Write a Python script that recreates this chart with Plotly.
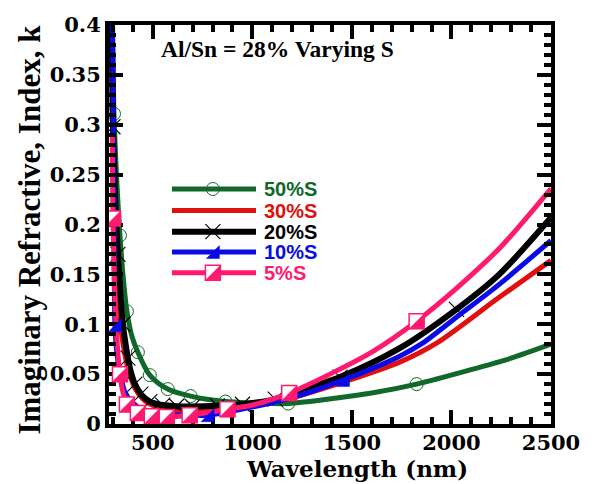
import plotly.graph_objects as go

# Extinction coefficient k versus wavelength for films with Al/Sn = 28 % and varying S content
lam_50 = [298, 305, 320, 335, 350, 370, 395, 425, 485, 575, 690, 865, 1000, 1180, 1425, 1600, 1825, 2090, 2300, 2500]
k_50 = [0.40, 0.311, 0.24, 0.189, 0.15, 0.113, 0.088, 0.072, 0.049, 0.035, 0.028, 0.0225, 0.0212, 0.0205, 0.026, 0.031, 0.040, 0.054, 0.066, 0.080]
mk_50 = [1, 3, 5, 7, 8, 9, 10, 11, 13, 16]

lam_30 = [294, 300, 312, 325, 340, 355, 375, 410, 450, 485, 550, 650, 750, 925, 1175, 1425, 1740, 1925, 2240, 2500]
k_30 = [0.40, 0.26, 0.18, 0.13, 0.095, 0.075, 0.056, 0.036, 0.025, 0.020, 0.0155, 0.0135, 0.0135, 0.016, 0.025, 0.040, 0.062, 0.081, 0.127, 0.164]

lam_20 = [294, 300, 312, 325, 338, 350, 362, 375, 390, 410, 440, 485, 550, 620, 700, 825, 950, 1115, 1175, 1440, 1740, 2025, 2240, 2500]
k_20 = [0.40, 0.298, 0.22, 0.17, 0.128, 0.100, 0.082, 0.066, 0.052, 0.040, 0.030, 0.0225, 0.0190, 0.0178, 0.0175, 0.0182, 0.0198, 0.025, 0.029, 0.047, 0.076, 0.115, 0.150, 0.207]
mk_20 = [1, 3, 5, 7, 9, 10, 11, 12, 13, 14, 15, 16, 17, 19, 21]

lam_10 = [296, 300, 305, 310, 320, 335, 360, 395, 450, 550, 700, 775, 925, 1175, 1455, 1740, 1855, 2025, 2240, 2500]
k_10 = [0.40, 0.36, 0.20, 0.099, 0.07, 0.052, 0.032, 0.022, 0.014, 0.010, 0.0088, 0.0088, 0.014, 0.025, 0.044, 0.068, 0.081, 0.107, 0.140, 0.184]
mk_10 = [3, 11, 14]

lam_5 = [297, 300, 318, 335, 350, 370, 395, 425, 495, 570, 685, 875, 1000, 1185, 1400, 1600, 1825, 2025, 2250, 2500]
k_5 = [0.29, 0.206, 0.09, 0.05, 0.032, 0.0196, 0.014, 0.011, 0.0078, 0.007, 0.0088, 0.0147, 0.019, 0.031, 0.051, 0.072, 0.103, 0.136, 0.178, 0.236]
mk_5 = [1, 3, 5, 7, 8, 9, 10, 11, 13, 16]

legend_labels = ["50%S", "30%S", "20%S", "10%S", "5%S"]
x_ticks = [500, 1000, 1500, 2000, 2500]
y_ticks = [0, 0.05, 0.1, 0.15, 0.2, 0.25, 0.3, 0.35, 0.4]

GREEN = "#10682a"
RED = "#e0100e"
BLACK = "#000000"
BLUE = "#0a0ae6"
PINK = "#ff1a70"

W, H = 595, 484
M_L, M_R, M_T, M_B = 109, 44, 15, 60
X_RANGE = [280, 2500]
Y_RANGE = [0, 0.4]

# marker glyph outlines in pixels, relative to the anchoring data point (y up)
HS = 7.5
SQUARE_PATH = f"M {-HS} {-HS} L {HS} {-HS} L {HS} {HS} L {-HS} {HS} Z"
HALF_PATH = f"M {-HS} {-HS} L {HS} {-HS} L {HS} {HS} Z"
HT = 6.5
TRI_PATH = f"M {-HT} {-HT} L {HT} {-HT} L {HT} {HT} Z"


def pick(vals, idx):
    return [vals[i] for i in idx]


def line(x, y, color, width, xa="x", ya="y", shape="spline"):
    return go.Scatter(x=x, y=y, mode="lines", showlegend=False, hoverinfo="skip", xaxis=xa, yaxis=ya,
                      line=dict(color=color, width=width, shape=shape, smoothing=0.8))


def glyph(x, y, path, fill, edge, edge_w, xref="x", yref="y"):
    return dict(type="path", path=path, xsizemode="pixel", ysizemode="pixel", xanchor=x, yanchor=y,
                xref=xref, yref=yref, fillcolor=fill, line=dict(color=edge, width=edge_w), layer="above")


def half_square(x, y, xref="x", yref="y"):
    return [glyph(x, y, SQUARE_PATH, "white", PINK, 1.5, xref, yref),
            glyph(x, y, HALF_PATH, PINK, PINK, 0.5, xref, yref)]


fig = go.Figure()
shapes = []

# 50 % S
fig.add_trace(line(lam_50, k_50, GREEN, 5))
fig.add_trace(go.Scatter(x=pick(lam_50, mk_50), y=pick(k_50, mk_50), mode="markers", showlegend=False,
                         marker=dict(symbol="circle-open", size=13, color=GREEN, line=dict(width=1, color=GREEN))))
# 30 % S
fig.add_trace(line(lam_30, k_30, RED, 5))
# 20 % S
fig.add_trace(line(lam_20, k_20, BLACK, 6))
fig.add_trace(go.Scatter(x=pick(lam_20, mk_20), y=pick(k_20, mk_20), mode="markers", showlegend=False,
                         marker=dict(symbol="x-thin-open", size=15, color=BLACK, line=dict(width=1.1, color=BLACK))))
# 10 % S
fig.add_trace(line(lam_10, k_10, BLUE, 5))
for xv, yv in zip(pick(lam_10, mk_10), pick(k_10, mk_10)):
    shapes.append(glyph(xv, yv, TRI_PATH, BLUE, BLUE, 0.5))
# 5 % S
fig.add_trace(line(lam_5, k_5, PINK, 5))
for xv, yv in zip(pick(lam_5, mk_5), pick(k_5, mk_5)):
    shapes.extend(half_square(xv, yv))

# Legend drawn on an overlay axis spanning the plot area in [0, 1] units
leg_x0, leg_x1, leg_xm, leg_tx = 0.1425, 0.3326, 0.235, 0.346
leg_rows = [0.589, 0.535, 0.482, 0.431, 0.379]
leg_colors = [GREEN, RED, BLACK, BLUE, PINK]
leg_widths = [5, 5, 6, 5, 5]
for yy, c, w in zip(leg_rows, leg_colors, leg_widths):
    fig.add_trace(line([leg_x0, leg_x1], [yy, yy], c, w, "x2", "y2", "linear"))
fig.add_trace(go.Scatter(x=[leg_xm], y=[leg_rows[0]], xaxis="x2", yaxis="y2", mode="markers", showlegend=False,
                         marker=dict(symbol="circle-open", size=13, color=GREEN, line=dict(width=1, color=GREEN))))
fig.add_trace(go.Scatter(x=[leg_xm], y=[leg_rows[2]], xaxis="x2", yaxis="y2", mode="markers", showlegend=False,
                         marker=dict(symbol="x-thin-open", size=15, color=BLACK, line=dict(width=1.1, color=BLACK))))
shapes.append(glyph(leg_xm, leg_rows[3], TRI_PATH, BLUE, BLUE, 0.5, "x2", "y2"))
shapes.extend(half_square(leg_xm, leg_rows[4], "x2", "y2"))

annotations = []
for yy, c, txt in zip(leg_rows, leg_colors, legend_labels):
    annotations.append(dict(x=leg_tx, y=yy, xref="paper", yref="paper", text=txt, showarrow=False,
                            xanchor="left", yanchor="middle",
                            font=dict(family="Liberation Sans, Arial", size=20, color=c, weight="bold")))
annotations.append(dict(x=0.113, y=0.939, xref="paper", yref="paper", text="Al/Sn = 28% Varying S",
                        showarrow=False, xanchor="left", yanchor="middle",
                        font=dict(family="Liberation Serif, Times New Roman", size=23.5, color="black", weight="bold")))
annotations.append(dict(x=0.561, y=-0.112, xref="paper", yref="paper", text="Wavelength (nm)",
                        showarrow=False, xanchor="center", yanchor="middle",
                        font=dict(family="DejaVu Serif", size=23, color="black", weight="bold")))
annotations.append(dict(x=-0.179, y=0.487, xref="paper", yref="paper", text="Imaginary Refractive, Index, k",
                        showarrow=False, xanchor="center", yanchor="middle", textangle=-90,
                        font=dict(family="Liberation Serif, Times New Roman", size=31, color="black", weight="bold")))

tick_font = dict(family="DejaVu Serif", size=21, color="black", weight="bold")

fig.update_layout(
    width=W, height=H,
    margin=dict(l=M_L, r=M_R, t=M_T, b=M_B),
    paper_bgcolor="white", plot_bgcolor="white",
    showlegend=False,
    annotations=annotations,
    shapes=shapes,
    xaxis=dict(range=X_RANGE, tickmode="array", tickvals=x_ticks, ticks="inside", ticklen=14, tickwidth=3.5,
               tickcolor="black", showline=True, linewidth=4, linecolor="black", mirror="allticks",
               showgrid=False, zeroline=False, tickfont=tick_font, ticklabelstandoff=-3,
               minor=dict(dtick=100, tick0=0, ticks="inside", ticklen=7, tickwidth=3.5, tickcolor="black",
                          showgrid=False)),
    yaxis=dict(range=Y_RANGE, tickmode="array", tickvals=y_ticks, ticktext=[f"{v:g}" for v in y_ticks],
               ticks="inside", ticklen=14, tickwidth=3.5,
               tickcolor="black", showline=True, linewidth=4, linecolor="black", mirror="allticks",
               showgrid=False, zeroline=False, tickfont=tick_font,
               minor=dict(dtick=0.01, tick0=0, ticks="inside", ticklen=7, tickwidth=3.5, tickcolor="black",
                          showgrid=False)),
    xaxis2=dict(range=[0, 1], overlaying="x", visible=False, fixedrange=True),
    yaxis2=dict(range=[0, 1], overlaying="y", visible=False, fixedrange=True),
)

fig.write_html("out.html")
